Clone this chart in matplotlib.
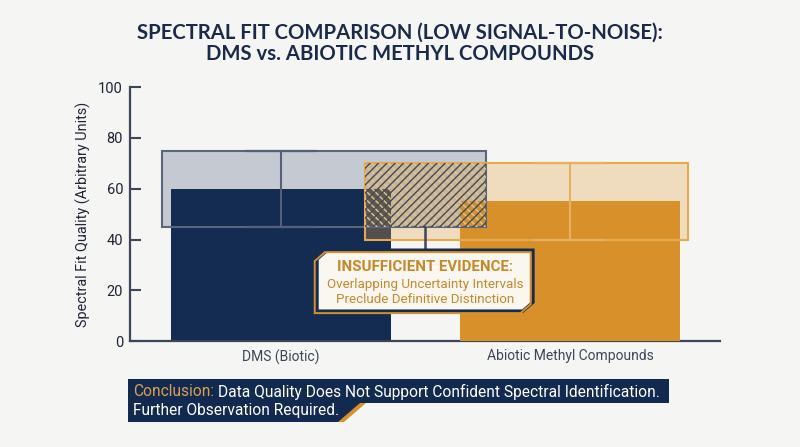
import numpy as np
import matplotlib.pyplot as plt
from matplotlib.patches import Rectangle, Polygon

# data
categories = ["DMS (Biotic)", "Abiotic Methyl Compounds"]
fit_quality = [60, 55]
lower = [45, 40]
upper = [75, 70]
yticks = [0, 20, 40, 60, 80, 100]

navy = "#142B52"
orange = "#D8912A"
bg = "#F5F5F3"
plt.rcParams["font.family"] = ["Roboto", "DejaVu Sans"]
plt.rcParams["hatch.linewidth"] = 1.0

fig = plt.figure(figsize=(8, 4.47), dpi=100, facecolor=bg)
ax = fig.add_axes([0.1625, 0.237, 0.7375, 0.568])
ax.set_facecolor(bg)

x = np.arange(len(categories))
bw = 0.76
# uncertainty boxes reach further towards the middle
inner, outer = 0.71, 0.41

# DMS box
ax.add_patch(Rectangle((x[0] - outer, lower[0]), inner + outer, upper[0] - lower[0],
                       facecolor="#C4C9D2", edgecolor="none", zorder=1))
ax.bar(x[0], fit_quality[0], bw, color=navy, zorder=2)
# abiotic box
ax.add_patch(Rectangle((x[1] - inner, lower[1]), inner + outer, upper[1] - lower[1],
                       facecolor="#E2A445", alpha=0.3, edgecolor="none", zorder=3))
ax.bar(x[1], fit_quality[1], bw, color=orange, zorder=4)

# box outlines
ax.add_patch(Rectangle((x[0] - outer, lower[0]), inner + outer, upper[0] - lower[0],
                       facecolor="none", edgecolor="#5C667A", lw=1.5, zorder=5))
ax.add_patch(Rectangle((x[1] - inner, lower[1]), inner + outer, upper[1] - lower[1],
                       facecolor="none", edgecolor="#E6A94E", lw=1.5, zorder=5))

# overlap of the intervals
ov_lo = max(lower)
ov_hi = min(upper)
ov_x0 = x[1] - inner
ov_x1 = x[0] + inner
ax.add_patch(Rectangle((ov_x0, ov_lo), ov_x1 - ov_x0, ov_hi - ov_lo,
                       facecolor=(0.6, 0.56, 0.5, 0.15), edgecolor="#E2C48E",
                       hatch="\\\\\\\\", lw=0, zorder=6))
ax.add_patch(Rectangle((ov_x0, ov_lo), ov_x1 - ov_x0, ov_hi - ov_lo,
                       facecolor="none", edgecolor="#4A4A4A",
                       hatch="////", lw=0, zorder=6))

# error bars
ax.errorbar(x[0], fit_quality[0], yerr=[[fit_quality[0] - lower[0]], [upper[0] - fit_quality[0]]],
            fmt="none", ecolor="#56607A", elinewidth=1.5, capsize=26, capthick=1.6, zorder=7)
ax.errorbar(x[1], fit_quality[1], yerr=[[fit_quality[1] - lower[1]], [upper[1] - fit_quality[1]]],
            fmt="none", ecolor="#E8B060", elinewidth=1.5, capsize=26, capthick=1.6, zorder=7)

# callout
mid = (ov_x0 + ov_x1) / 2
ax.plot([mid, mid], [ov_lo, 35.8], color="#3D4658", lw=1.8, zorder=8)
cx0, cx1, cy0, cy1 = 0.125, 0.872, 11.8, 35.8
ch_x, ch_y = 0.035, 3.5
pts = [(cx0 + ch_x, cy1), (cx1, cy1), (cx1, cy0 + ch_y), (cx1 - ch_x, cy0),
       (cx0, cy0), (cx0, cy1 - ch_y)]
ax.add_patch(Polygon(pts, closed=True, facecolor="#FAF7F0", edgecolor=navy, lw=2.4, zorder=9))
pts2 = [(px - 0.008, py - 0.8) for px, py in pts]
ax.add_patch(Polygon(pts2, closed=True, facecolor="none", edgecolor=orange, lw=1.4, zorder=9))
ax.text(mid, 29.3, "INSUFFICIENT EVIDENCE:", ha="center", va="center", fontsize=10.8,
        fontweight="bold", color="#C8892A", zorder=10)
ax.text(mid, 22.3, "Overlapping Uncertainty Intervals", ha="center", va="center",
        fontsize=9.6, color="#C8892A", zorder=10)
ax.text(mid, 16.3, "Preclude Definitive Distinction", ha="center", va="center",
        fontsize=9.6, color="#C8892A", zorder=10)

ax.set_xlim(-0.522, 1.519)
ax.set_ylim(0, 100)
ax.set_yticks(yticks)
ax.set_xticks(x)
ax.set_xticklabels(categories, fontsize=10, color="#1E2536")
ax.tick_params(axis="y", direction="in", length=8, width=1.5, colors="#3D4658",
               labelcolor="#1E2536", labelsize=10.5, pad=5)
ax.tick_params(axis="x", direction="in", length=5, width=1, colors="#3D4658", pad=6)
ax.set_ylabel("Spectral Fit Quality (Arbitrary Units)", fontsize=10.4, color="#1E2536", labelpad=5)
for s in ["top", "right"]:
    ax.spines[s].set_visible(False)
for s in ["left", "bottom"]:
    ax.spines[s].set_color("#3D4658")
    ax.spines[s].set_linewidth(1.6)

fig.text(0.5, 0.928, "SPECTRAL FIT COMPARISON (LOW SIGNAL-TO-NOISE):", ha="center", va="center",
         fontsize=14.6, fontweight="bold", color="#1B2A4A", family=["Lato", "DejaVu Sans"])
fig.text(0.5, 0.879, "DMS vs. ABIOTIC METHYL COMPOUNDS", ha="center", va="center",
         fontsize=14.6, fontweight="bold", color="#1B2A4A", family=["Lato", "DejaVu Sans"])

# conclusion banner (pixel coords -> figure fractions)
W, H = 800, 447
def fp(px, py):
    return (px / W, 1 - py / H)
banner = [fp(128, 379), fp(669, 379), fp(669, 403), fp(362, 403), fp(340, 422), fp(128, 422)]
fig.patches.append(Polygon(banner, closed=True, facecolor="#132A50", edgecolor="none",
                           transform=fig.transFigure, figure=fig))
stripe = [fp(360, 403), fp(366, 403), fp(344, 422), fp(338, 422)]
fig.patches.append(Polygon(stripe, closed=True, facecolor=orange, edgecolor="none",
                           transform=fig.transFigure, figure=fig))
t1 = fig.text(133 / W, 1 - 392 / H, "Conclusion:", ha="left", va="center",
              fontsize=11.2, color="#D9A050")
fig.canvas.draw()
bb = t1.get_window_extent()
fig.text((bb.x1 + 4) / W, 1 - 392 / H,
         "Data Quality Does Not Support Confident Spectral Identification.",
         ha="left", va="center", fontsize=11.2, color="white")
fig.text(133 / W, 1 - 411 / H, "Further Observation Required.", ha="left", va="center",
         fontsize=11.2, color="white")

fig.savefig("out.png", dpi=100, facecolor=bg)
